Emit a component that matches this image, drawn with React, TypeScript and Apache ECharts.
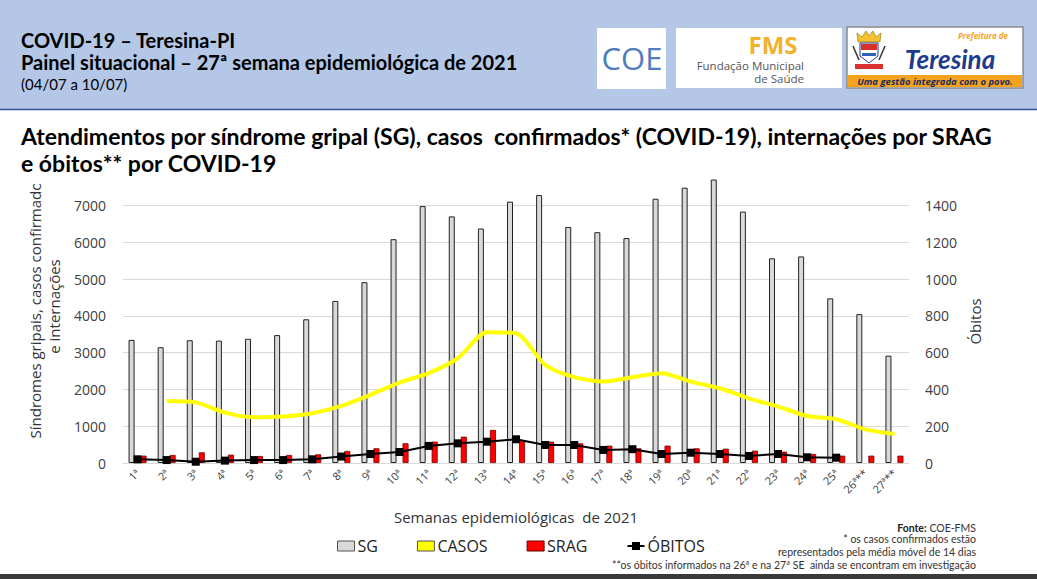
import { useEffect, useRef } from "react";
import * as echarts from "echarts";

const weeks = [
  "1ª", "2ª", "3ª", "4ª", "5ª", "6ª", "7ª", "8ª", "9ª", "10ª", "11ª", "12ª", "13ª", "14ª",
  "15ª", "16ª", "17ª", "18ª", "19ª", "20ª", "21ª", "22ª", "23ª", "24ª", "25ª", "26ª**", "27ª**",
];
const sg = [
  3350, 3150, 3340, 3330, 3380, 3480, 3910, 4410, 4920, 6090, 6990, 6710, 6380, 7110,
  7290, 6420, 6280, 6120, 7190, 7490, 7900, 6840, 5570, 5620, 4480, 4050, 2920,
];
const casos = [
  null, 1690, 1650, 1370, 1245, 1265, 1355, 1555, 1855, 2190, 2445, 2850, 3560, 3530,
  2670, 2335, 2215, 2335, 2445, 2215, 2035, 1760, 1535, 1280, 1190, 915, 790,
];
const srag = [
  200, 218, 290, 227, 190, 218, 236, 327, 400, 536, 581, 717, 900, 620,
  581, 536, 472, 400, 472, 400, 390, 336, 309, 245, 200, 200, 200,
];
const obitos = [
  20, 16, 7, 13, 16, 16, 20, 35, 49, 60, 93, 107, 116, 129,
  98, 98, 71, 75, 49, 56, 49, 38, 49, 31, 29, null, null,
];
const footnotes = [
  "* os casos confirmados estão",
  "representados pela média móvel de 14 dias",
  "**os óbitos informados na 26ª e na 27ª SE  ainda se encontram em investigação",
];

const TITLE_FONT = "Lato";
const AXIS_FONT = "Open Sans";

function txt(text: string, x: number, y: number, size: number, opts: any = {}) {
  return {
    type: "text",
    z: opts.z ?? 60,
    style: {
      text,
      x,
      y,
      fill: opts.fill ?? "#000",
      fontSize: size,
      fontFamily: opts.family ?? TITLE_FONT,
      fontWeight: opts.weight ?? "normal",
      fontStyle: opts.italic ? "italic" : "normal",
      textAlign: opts.align ?? "left",
      textVerticalAlign: "middle",
      align: opts.align ?? "left",
      verticalAlign: "middle",
      lineHeight: size,
      rich: opts.rich,
    },
  };
}

export default function App() {
  const chartRef = useRef<HTMLDivElement>(null);

  useEffect(() => {
    document.body.style.margin = "0";
    if (!chartRef.current) return;
    const chart = echarts.init(chartRef.current, undefined, { renderer: "svg" });

    const graphic: any[] = [
      // header band
      { type: "rect", z: 1, shape: { x: 0, y: 0, width: 1037, height: 109 }, style: { fill: "#B4C7E7" } },
      { type: "line", z: 2, shape: { x1: 0, y1: 109.5, x2: 1037, y2: 109.5 }, style: { stroke: "#2F5597", lineWidth: 1.5 } },
      { type: "rect", z: 1, shape: { x: 0, y: 574, width: 1037, height: 5 }, style: { fill: "#3A3A3A" } },
      txt("COVID-19 – Teresina-PI", 21, 40, 20, { weight: "bold" }),
      txt("Painel situacional – 27ª semana epidemiológica de 2021", 21, 62, 20, { weight: "bold" }),
      txt("(04/07 a 10/07)", 21, 84, 15),

      // COE logo
      { type: "rect", z: 3, shape: { x: 597, y: 28, width: 69, height: 61 }, style: { fill: "#fff" } },
      txt("COE", 632, 58, 31, { align: "center", fill: "#4F7DBE", family: "Open Sans" }),

      // FMS logo
      { type: "rect", z: 3, shape: { x: 676, y: 28, width: 166, height: 60 }, style: { fill: "#fff" } },
      txt("FMS", 773, 44, 24, { align: "center", weight: "bold", fill: "#F2B22A", family: "Open Sans" }),
      txt("Fundação Municipal", 804, 65, 11.5, { align: "right", fill: "#555", family: "Open Sans" }),
      txt("de Saúde", 804, 78, 11.5, { align: "right", fill: "#555", family: "Open Sans" }),

      // Teresina logo
      { type: "rect", z: 3, shape: { x: 847, y: 27, width: 176, height: 61 }, style: { fill: "#fff", stroke: "#8A8A8A", lineWidth: 1.5 } },
      { type: "rect", z: 4, shape: { x: 848, y: 75, width: 174, height: 12 }, style: { fill: "#F5A31F" } },
      txt("Uma gestão integrada com o povo.", 935, 81.5, 9.5, { align: "center", weight: "bold", italic: true, fill: "#1D2C5E", family: "Open Sans" }),
      txt("Teresina", 950, 59, 26, { align: "center", weight: "bold", italic: true, fill: "#1B3C8E", family: "Lato" }),
      txt("Prefeitura de", 1008, 35, 8, { align: "right", weight: "bold", italic: true, fill: "#F5A31F", family: "Open Sans" }),
      { type: "polygon", z: 5, shape: { points: [[858, 42], [857, 33], [862, 37], [866, 31], [869, 36], [873, 31], [876, 37], [881, 33], [880, 42]] }, style: { fill: "#F2C230", stroke: "#8A6A00", lineWidth: 0.6 } },
      { type: "polygon", z: 5, shape: { points: [[860, 43], [878, 43], [878, 56], [869, 63], [860, 56]] }, style: { fill: "#fff", stroke: "#1B3C8E", lineWidth: 1 } },
      { type: "rect", z: 6, shape: { x: 861, y: 44, width: 16, height: 6 }, style: { fill: "#D9302C" } },
      { type: "rect", z: 6, shape: { x: 862, y: 53, width: 14, height: 3 }, style: { fill: "#2B64B8" } },
      { type: "line", z: 5, shape: { x1: 853, y1: 46, x2: 859, y2: 60 }, style: { stroke: "#333", lineWidth: 1.5 } },
      { type: "line", z: 5, shape: { x1: 885, y1: 46, x2: 879, y2: 60 }, style: { stroke: "#333", lineWidth: 1.5 } },
      { type: "rect", z: 5, shape: { x: 855, y: 64, width: 28, height: 5 }, style: { fill: "#D9302C" } },

      // chart title (rect masks the overflow of the left axis name)
      { type: "rect", z: 50, shape: { x: 20, y: 140, width: 45, height: 44 }, style: { fill: "#fff" } },
      txt("Atendimentos por síndrome gripal (SG), casos  confirmados* (COVID-19), internações por SRAG", 21, 136, 23, { weight: "bold" }),
      txt("e óbitos** por COVID-19", 21, 163, 23, { weight: "bold" }),

      // footnotes
      txt("{b|Fonte:} COE-FMS", 976, 528, 10.5, {
        align: "right",
        fill: "#333",
        rich: { b: { fontWeight: "bold", fontSize: 10.5, fontFamily: TITLE_FONT, fill: "#222" } },
      }),
      ...footnotes.map((t, i) => txt(t, 976, [539, 552, 565][i], 10.5, { align: "right", fill: "#333" })),
    ];

    chart.setOption({
      animation: false,
      backgroundColor: "#fff",
      textStyle: { fontFamily: AXIS_FONT },
      graphic,
      grid: { left: 123, right: 128, top: 180, bottom: 116 },
      legend: {
        left: 332,
        top: 533,
        itemGap: 39,
        itemWidth: 17,
        itemHeight: 10,
        textStyle: { fontSize: 16, color: "#222", fontFamily: AXIS_FONT, lineHeight: 16, padding: [0, 0, 0, -2] },
        data: [
          { name: "SG", icon: "rect", itemStyle: { color: "#D9D9D9", borderColor: "#555", borderWidth: 1 } },
          { name: "CASOS", icon: "rect", itemStyle: { color: "#FFFF00", borderColor: "#555", borderWidth: 1 } },
          { name: "SRAG", icon: "rect", itemStyle: { color: "#FF0000", borderColor: "#600", borderWidth: 1 } },
          { name: "ÓBITOS" },
        ],
      },
      xAxis: {
        type: "category",
        data: weeks,
        name: "Semanas epidemiológicas  de 2021",
        nameLocation: "middle",
        nameGap: 46,
        nameTextStyle: { fontSize: 15, color: "#333" },
        axisLine: { lineStyle: { color: "#D9D9D9", width: 1 } },
        axisTick: { show: false },
        axisLabel: { interval: 0, rotate: 45, fontSize: 11, color: "#404040", margin: 8 },
      },
      yAxis: [
        {
          type: "value",
          min: 0,
          max: 7700,
          interval: 1000,
          name: "Síndromes gripais, casos confirmados\ne internações",
          nameLocation: "middle",
          nameRotate: 90,
          nameGap: 50,
          nameTextStyle: { fontSize: 15, color: "#333", lineHeight: 19, padding: [0, 0, 0, 30] },
          axisLabel: { fontSize: 14, color: "#404040", margin: 17, showMaxLabel: false, formatter: (v: number) => String(v) },
          axisLine: { show: false },
          axisTick: { show: false },
          splitLine: { lineStyle: { color: "#D9D9D9", width: 1 }, showMaxLine: false },
        },
        {
          type: "value",
          min: 0,
          max: 1540,
          interval: 200,
          name: "Óbitos",
          nameLocation: "middle",
          nameRotate: 90,
          nameGap: 54,
          nameTextStyle: { fontSize: 15, color: "#333" },
          axisLabel: { fontSize: 14, color: "#404040", margin: 16, showMaxLabel: false, formatter: (v: number) => String(v) },
          axisLine: { show: false },
          axisTick: { show: false },
          splitLine: { show: false },
        },
      ],
      series: [
        {
          name: "SG",
          type: "bar",
          data: sg,
          barWidth: 6,
          barGap: "100%",
          itemStyle: { color: "#D9D9D9", borderColor: "#222", borderWidth: 1 },
          z: 2,
        },
        {
          name: "SRAG",
          type: "bar",
          data: srag,
          barWidth: 6,
          barGap: "100%",
          itemStyle: { color: "#FF0000", borderColor: "#700", borderWidth: 0.8 },
          z: 2,
        },
        {
          name: "CASOS",
          type: "line",
          data: casos,
          smooth: 0.25,
          symbol: "none",
          lineStyle: { color: "#FFFF00", width: 4 },
          itemStyle: { color: "#FFFF00" },
          z: 3,
        },
        {
          name: "ÓBITOS",
          type: "line",
          yAxisIndex: 1,
          data: obitos,
          symbol: "rect",
          symbolSize: 8,
          lineStyle: { color: "#000", width: 2 },
          itemStyle: { color: "#000" },
          z: 4,
        },
      ],
    });

    return () => chart.dispose();
  }, []);

  return <div ref={chartRef} style={{ width: 1037, height: 579 }} />;
}
